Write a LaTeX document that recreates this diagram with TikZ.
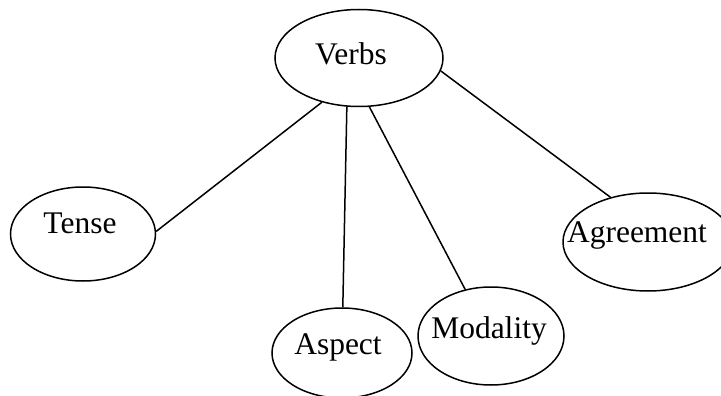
\documentclass[tikz,border=0pt]{standalone}
\usepackage{fontspec}
\setmainfont{Liberation Serif}
\usetikzlibrary{shapes.geometric}
\begin{document}
\begin{tikzpicture}[x=1pt,y=-1pt,
  bubble/.style={draw,ellipse,line width=1.5pt,inner sep=0pt},
  word/.style={anchor=base,inner sep=0pt,font=\fontsize{31.5}{36}\selectfont},
  link/.style={line width=1.5pt}]
\clip (0,0) rectangle (721,396);
\useasboundingbox (0,0) rectangle (721,396);
% ellipses
\node[bubble,minimum width=168pt,minimum height=97pt] (verbs) at (359,58) {};
\node[bubble,minimum width=145pt,minimum height=94pt] (tense) at (83,234) {};
\node[bubble,minimum width=140pt,minimum height=90pt] (aspect) at (342,353) {};
\node[bubble,minimum width=146pt,minimum height=98pt] (modality) at (491,336) {};
\node[bubble,minimum width=170pt,minimum height=98pt] (agreement) at (648,242) {};
% labels
\node[word] (verbs-t) at (351,65) {Verbs};
\node[word] (tense-t) at (80,233) {Tense};
\node[word] (aspect-t) at (338,354) {Aspect};
\node[word] (modality-t) at (489,338) {Modality};
\node[word] (agreement-t) at (637,242) {Agreement};
% connectors
\draw[link] (verbs.230.6) -- (tense.2.4);
\draw[link] (verbs.256.5) -- (aspect.89);
\draw[link] (verbs.282.7) -- (modality.119.7);
\draw[link] (verbs.351.9) -- (agreement.130.2);
\end{tikzpicture}
\end{document}
